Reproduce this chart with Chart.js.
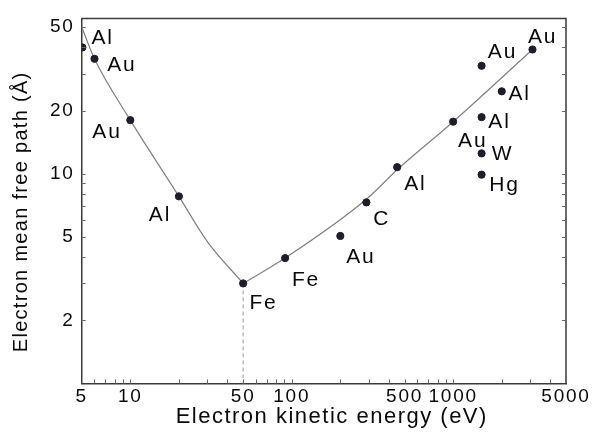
<!DOCTYPE html>
<html>
<head>
<meta charset="utf-8">
<script src="https://cdn.jsdelivr.net/npm/chart.js@4.4.1/dist/chart.umd.min.js"></script>
<style>
  html, body { margin: 0; padding: 0; background: #fff; }
  #wrap { width: 593px; height: 437px; position: relative; }
</style>
</head>
<body>
<div id="wrap"><canvas id="mfp"></canvas></div>
<script>
// measured mean free paths: kinetic energy (eV), path (Å), element
const energies = [5.05, 6, 10, 20, 50, 91, 200, 290, 450, 1000, 1500, 1500, 1500, 1500, 2000, 3100];
const paths    = [40, 35.3, 18, 7.8, 3.0, 3.96, 5.05, 7.3, 10.75, 17.7, 32.7, 18.6, 12.5, 9.9, 24.7, 39.1];
const elements = ["Al", "Au", "Au", "Al", "Fe", "Fe", "Au", "C", "Al", "Au", "Au", "Al", "W", "Hg", "Al", "Au"];

// universal curve, falling branch then rising branch
const fallEnergy = [5, 6, 10, 20, 30, 50];
const fallPath   = [50, 35.3, 18, 7.8, 4.75, 3.0];
const riseEnergy = [50, 91, 290, 450, 1000, 3100];
const risePath   = [3.0, 3.96, 7.55, 10.45, 17.7, 39.1];

// drop line from the minimum to the axis
const minEnergy = [50, 50];
const minPath   = [3.0, 1];

const xTickValues = [5, 10, 50, 100, 500, 1000, 5000];
const yTickValues = [2, 5, 10, 20, 50];

const FONT = '"Liberation Sans", Arial, Helvetica, sans-serif';

function pts(xs, ys){
  return xs.map((x, i) => ({ x, y: ys[i] }));
}

// where each element symbol sits relative to its dot (cap-centre offset)
const labelShift = [
  [19.4, -11.2], [26.5, 4.8], [-24.2, 10.7], [-19.8, 17.3],
  [19.5, 18.3], [20, 20.7], [19.6, 19.2], [14.5, 14.7],
  [17.3, 15.7], [18.7, 18], [20, -15], [17, 3.5],
  [20, -0.6], [22, 8.7], [17, 1.5], [9.3, -14.5]
];

const hasSpacing = "letterSpacing" in CanvasRenderingContext2D.prototype;

function spacedText(ctx, text, x, y, size, spacing, align){
  ctx.font = size + "px " + FONT;
  if (hasSpacing) ctx.letterSpacing = spacing + "px";
  let w = ctx.measureText(text).width;
  if (hasSpacing) w -= spacing;
  let left = x;
  if (align === "center") left = x - w / 2;
  ctx.textAlign = "left";
  ctx.textBaseline = "alphabetic";
  ctx.fillText(text, left, y);
}

const TICK_SPACING = "1.8px";

const decorations = {
  id: "decorations",
  beforeUpdate(chart){ if (hasSpacing) chart.ctx.letterSpacing = TICK_SPACING; },
  beforeLayout(chart){ if (hasSpacing) chart.ctx.letterSpacing = TICK_SPACING; },
  beforeDraw(chart){ if (hasSpacing) chart.ctx.letterSpacing = TICK_SPACING; },
  afterDraw(chart){
    const ctx = chart.ctx;
    const a = chart.chartArea;
    const xs = chart.scales.x, ys = chart.scales.y;

    ctx.save();
    // top and right frame
    ctx.strokeStyle = "#3a3a3a";
    ctx.lineWidth = 1.5;
    ctx.beginPath();
    ctx.moveTo(a.left, a.top);
    ctx.lineTo(a.right, a.top);
    ctx.lineTo(a.right, a.bottom);
    ctx.stroke();

    // inward minor ticks
    ctx.strokeStyle = "#666";
    ctx.lineWidth = 1;
    ctx.beginPath();
    for (const d of [1, 10, 100, 1000]){
      for (let m = 1; m <= 9; m++){
        const v = m * d;
        if (v <= 5 || v >= 5000) continue;
        const px = Math.round(xs.getPixelForValue(v)) + 0.5;
        ctx.moveTo(px, a.bottom);
        ctx.lineTo(px, a.bottom - 4);
      }
    }
    for (const d of [1, 10]){
      for (let m = 1; m <= 9; m++){
        const v = m * d;
        if (v <= 1 || v >= 55) continue;
        const py = Math.round(ys.getPixelForValue(v)) + 0.5;
        ctx.moveTo(a.left, py);
        ctx.lineTo(a.left + 4, py);
        ctx.moveTo(a.right, py);
        ctx.lineTo(a.right - 4, py);
      }
    }
    ctx.stroke();

    // element symbols
    ctx.fillStyle = "#0a0a0a";
    const size = 21;
    const cap = size * 0.716;
    energies.forEach((e, i) => {
      const px = xs.getPixelForValue(e);
      const py = ys.getPixelForValue(paths[i]);
      const [dx, dy] = labelShift[i];
      spacedText(ctx, elements[i], px + dx, py + dy + cap / 2, size, 1.8, "center");
    });

    // axis titles
    spacedText(ctx, "Electron kinetic energy (eV)", 331, 423, 22, 1.5, "center");
    ctx.save();
    ctx.translate(27, 212.5);
    ctx.rotate(-Math.PI / 2);
    spacedText(ctx, "Electron mean free path (Å)", 0, 0, 20, 1.3, "center");
    ctx.restore();

    ctx.restore();
  }
};

new Chart(document.getElementById("mfp"), {
  type: "scatter",
  data: {
    datasets: [
      {
        data: pts(energies, paths),
        backgroundColor: "#1d1d2b",
        borderColor: "#1d1d2b",
        pointRadius: 3.6,
        pointHoverRadius: 3.6
      },
      {
        data: pts(fallEnergy, fallPath),
        showLine: true,
        borderColor: "#808080",
        borderWidth: 1.2,
        pointRadius: 0,
        cubicInterpolationMode: "monotone"
      },
      {
        data: pts(riseEnergy, risePath),
        showLine: true,
        borderColor: "#808080",
        borderWidth: 1.2,
        pointRadius: 0,
        cubicInterpolationMode: "monotone"
      },
      {
        data: pts(minEnergy, minPath),
        showLine: true,
        borderColor: "#9a9a9a",
        borderWidth: 1,
        borderDash: [4, 3],
        pointRadius: 0
      }
    ]
  },
  options: {
    responsive: true,
    maintainAspectRatio: false,
    animation: false,
    events: [],
    layout: { padding: { top: 11.7, right: 27, left: 0, bottom: 0 } },
    plugins: { legend: { display: false }, tooltip: { enabled: false } },
    scales: {
      x: {
        type: "logarithmic",
        min: 5,
        max: 5000,
        afterBuildTicks(scale){ scale.ticks = xTickValues.map(v => ({ value: v })); },
        afterFit(scale){ scale.height = 53.5; },
        grid: { display: false, drawTicks: false },
        border: { display: true, color: "#3a3a3a", width: 1.5 },
        ticks: {
          autoSkip: false,
          maxRotation: 0,
          padding: 2,
          color: "#0a0a0a",
          font: { family: FONT, size: 19 },
          callback: v => String(v)
        }
      },
      y: {
        type: "logarithmic",
        min: 1,
        max: 55,
        afterBuildTicks(scale){ scale.ticks = yTickValues.map(v => ({ value: v })); },
        afterFit(scale){ scale.width = 81.7; },
        grid: { display: false, drawTicks: false },
        border: { display: true, color: "#3a3a3a", width: 1.5 },
        ticks: {
          autoSkip: false,
          padding: 7,
          color: "#0a0a0a",
          font: { family: FONT, size: 19 },
          callback: v => String(v)
        }
      }
    }
  },
  plugins: [decorations]
});
</script>
</body>
</html>
